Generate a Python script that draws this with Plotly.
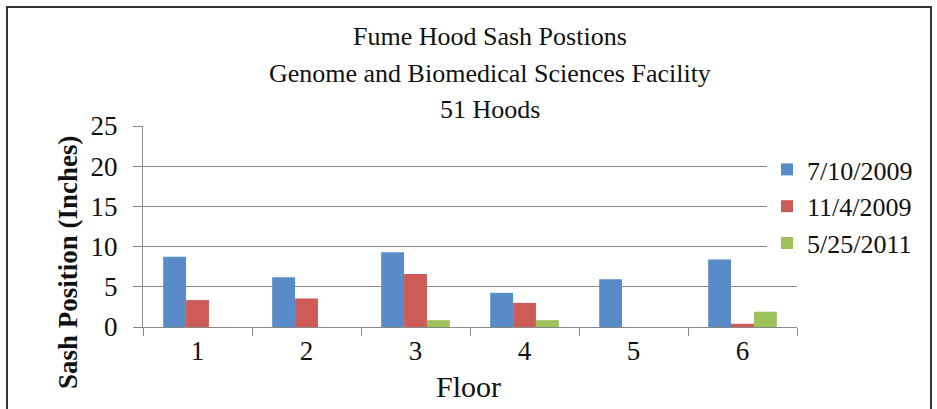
import plotly.graph_objects as go

floors = ["1", "2", "3", "4", "5", "6"]
s_jul2009 = [8.75, 6.2, 9.3, 4.25, 5.95, 8.4]
s_nov2009 = [3.35, 3.55, 6.6, 3.0, 0, 0.4]
s_may2011 = [0, 0, 0.85, 0.85, 0, 1.9]
series_names = ["7/10/2009", "11/4/2009", "5/25/2011"]
colors = ["#5A8BC9", "#CD5C57", "#9FC15C"]
title_lines = ["Fume Hood Sash Postions", "Genome and Biomedical Sciences Facility", "51 Hoods"]

W, H = 937, 409
# plot area in page pixels
L, R, T, B = 143, 797, 126, 327
FONT = "Liberation Serif"

def px_x(px):
    return (px - L) / (R - L)

def px_y(py):
    return (B - py) / (B - T)

fig = go.Figure()
for i, (name, vals) in enumerate(zip(series_names, [s_jul2009, s_nov2009, s_may2011])):
    fig.add_trace(go.Bar(x=floors, y=vals, name=name, marker_color=colors[i],
                         marker_line_width=0, legendgroup=str(i)))

annotations = []
for ln, py in zip(title_lines, [37, 73, 110]):
    annotations.append(dict(text=ln, x=px_x(490), y=px_y(py), xref="paper", yref="paper",
                            showarrow=False, xanchor="center", yanchor="middle",
                            font=dict(family=FONT, size=26, color="#111")))
annotations.append(dict(text="Floor", x=px_x(468), y=px_y(386), xref="paper", yref="paper",
                        showarrow=False, xanchor="center", yanchor="middle",
                        font=dict(family=FONT, size=30, color="#111")))
annotations.append(dict(text="<b>Sash Position (Inches)</b>", x=px_x(68), y=px_y(262),
                        xref="paper", yref="paper", textangle=-90, showarrow=False,
                        xanchor="center", yanchor="middle",
                        font=dict(family=FONT, size=27, color="#111")))

fig.update_layout(
    width=W, height=H,
    margin=dict(l=L, r=W - R, t=T, b=H - B, pad=0),
    paper_bgcolor="white", plot_bgcolor="white",
    barmode="group", bargap=0.37, bargroupgap=0,
    showlegend=True,
    legend=dict(x=px_x(767), y=px_y(146), xanchor="left", yanchor="top",
                bgcolor="white", font=dict(family=FONT, size=26, color="#111"),
                itemwidth=30, tracegroupgap=0, traceorder="grouped"),
    annotations=annotations,
    shapes=[dict(type="rect", xref="paper", yref="paper",
                 x0=px_x(7), x1=px_x(931), y0=px_y(420), y1=px_y(7),
                 line=dict(color="#333", width=2), layer="above")],
)
fig.update_xaxes(type="category", showline=True, linecolor="#888", linewidth=1,
                 ticks="outside", tickson="boundaries", ticklen=8, tickcolor="#888",
                 showgrid=False, tickfont=dict(family=FONT, size=27, color="#111"))
fig.update_yaxes(range=[0, 25], dtick=5, showline=True, linecolor="#888", linewidth=1,
                 ticks="outside", ticklen=9, tickcolor="#888", showgrid=True,
                 gridcolor="#8a8a8a", gridwidth=1, zeroline=False, ticklabelstandoff=10,
                 tickfont=dict(family=FONT, size=27, color="#111"))

fig.write_html("out.html", config={"displayModeBar": False},
               post_script="document.body.style.margin='0';document.body.style.overflow='hidden';")
